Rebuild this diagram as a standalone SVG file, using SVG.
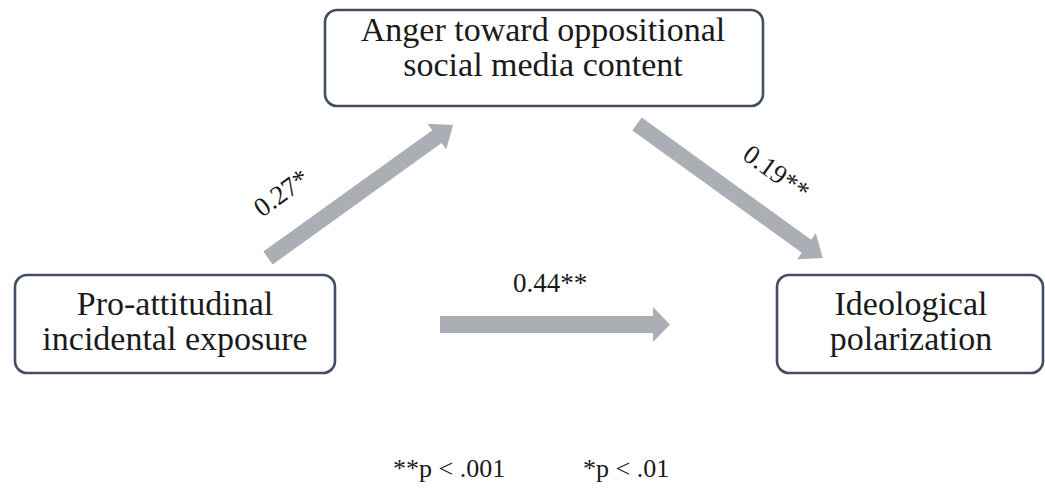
<svg xmlns="http://www.w3.org/2000/svg" width="1045" height="498" viewBox="0 0 1045 498">
<style>
.box{fill:#fff;stroke:#434e61;stroke-width:2.6}
.t{font-family:"Liberation Serif","Times New Roman",serif;fill:#1a1a1a}
.n{font-size:34px;text-anchor:middle}
.l{font-size:27px}
.arr{fill:#abaeb5}
</style>
<rect width="1045" height="498" fill="#fff"/>
<g id="connectors">
<polygon class="arr" points="440,316 653,316 653,307 670,324.5 653,342 653,333 440,333"/>
<polygon class="arr" transform="translate(268,258) rotate(-35.7)" points="0,-8 208,-8 208,-16 228,0 208,16 208,8 0,8"/>
<polygon class="arr" transform="translate(637,124) rotate(35.8)" points="0,-8 209,-8 209,-16 229,0 209,16 209,8 0,8"/>
<text class="t l" transform="translate(262,218) rotate(-36)">0.27*</text>
<text class="t l" transform="translate(741,158) rotate(36)">0.19**</text>
<text class="t l" x="550" y="292" text-anchor="middle">0.44**</text>
</g>
<g id="node-anger">
<rect class="box" x="325" y="10" width="438" height="96" rx="12"/>
<text class="t n" x="543" y="41">Anger toward oppositional</text>
<text class="t n" x="543" y="76">social media content</text>
</g>
<g id="node-exposure">
<rect class="box" x="15" y="275" width="320" height="98" rx="12"/>
<text class="t n" x="175" y="315">Pro-attitudinal</text>
<text class="t n" x="175" y="350">incidental exposure</text>
</g>
<g id="node-polarization">
<rect class="box" x="777" y="275" width="266" height="98" rx="12"/>
<text class="t n" x="911" y="315">Ideological</text>
<text class="t n" x="911" y="350">polarization</text>
</g>
<g id="footnote">
<text class="t" font-size="26" x="393" y="477">**p &lt; .001</text>
<text class="t" font-size="26" x="583" y="477">*p &lt; .01</text>
</g>
</svg>
